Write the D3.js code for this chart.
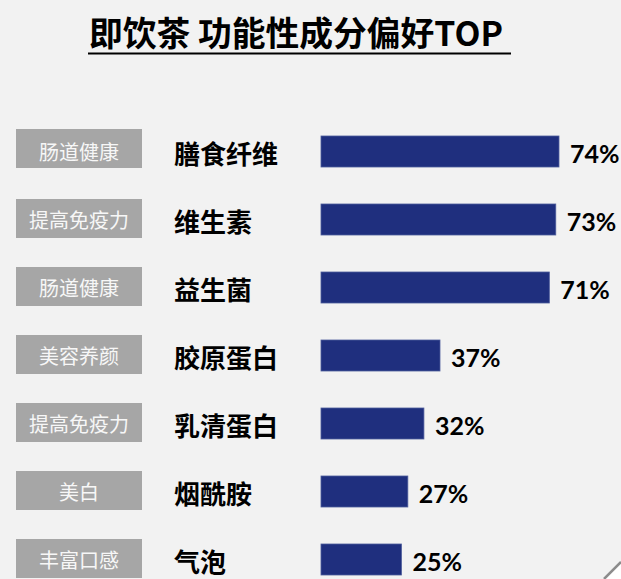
<!DOCTYPE html>
<html>
<head>
<meta charset="utf-8">
<script src="https://cdn.jsdelivr.net/npm/d3@7"></script>
<style>
  html, body { margin: 0; padding: 0; background: #f2f2f2; }
  svg { display: block; }
</style>
</head>
<body>
<svg id="chart" width="621" height="579"></svg>
<script>
// ---- data ----
const categories = ["膳食纤维", "维生素", "益生菌", "胶原蛋白", "乳清蛋白", "烟酰胺", "气泡"];
const benefits   = ["肠道健康", "提高免疫力", "肠道健康", "美容养颜", "提高免疫力", "美白", "丰富口感"];
const values     = [74, 73, 71, 37, 32, 27, 25];
const valueLabels = ["74%", "73%", "71%", "37%", "32%", "27%", "25%"];
const titleText = "即饮茶 功能性成分偏好TOP";

const W = 621, H = 579;
const svg = d3.select("#chart");

svg.append("rect").attr("width", W).attr("height", H).attr("fill", "#f2f2f2");

// scales
const y = d3.scalePoint().domain(categories).range([150.5, 558.5]);
const x = d3.scaleLinear().domain([0, 100]).range([321, 642.6]);

// title
const title = svg.append("text")
  .attr("x", 89).attr("y", 46)
  .attr("font-family", "'Noto Sans CJK SC', sans-serif")
  .attr("font-weight", 700)
  .attr("font-size", 33)
  .attr("fill", "#000")
  .text(titleText);
const tl = title.node().getComputedTextLength();
if (tl > 0) title.attr("font-size", 33 * 414 / tl);
svg.append("rect").attr("x", 88).attr("y", 52.5).attr("width", 423).attr("height", 2).attr("fill", "#000");

const rows = svg.append("g").selectAll("g").data(categories).join("g");

// grey benefit boxes
rows.append("rect")
  .attr("x", 16).attr("y", (d, i) => y(d) - (i === 0 ? 21.5 : 19.5))
  .attr("width", 126).attr("height", 39)
  .attr("fill", "#a6a6a6");
rows.append("text")
  .attr("x", 79).attr("y", d => y(d) + 1)
  .attr("text-anchor", "middle").attr("dominant-baseline", "central")
  .attr("font-family", "'Noto Sans CJK SC', sans-serif")
  .attr("font-weight", 400).attr("font-size", 20)
  .attr("fill", "#f7f7f7")
  .text((d, i) => benefits[i]);

// category labels
rows.append("text")
  .attr("x", 174).attr("y", d => y(d) + 1.5)
  .attr("dominant-baseline", "central")
  .attr("font-family", "'Noto Sans CJK SC', sans-serif")
  .attr("font-weight", 700).attr("font-size", 26)
  .attr("fill", "#000")
  .text(d => d);

// bars
rows.append("rect")
  .attr("x", x(0)).attr("y", d => y(d) - 14.5)
  .attr("width", (d, i) => x(values[i]) - x(0)).attr("height", 31)
  .attr("fill", "#1f2f7e")
  .attr("stroke", "#4d5c9c").attr("stroke-width", 0.8);

// value labels
rows.append("text")
  .attr("x", (d, i) => x(values[i]) + 11).attr("y", d => y(d) + 12.3)
  .attr("font-family", "Lato, 'Open Sans', sans-serif")
  .attr("font-weight", 700).attr("font-size", 25)
  .attr("fill", "#000")
  .text((d, i) => valueLabels[i]);

// page curl corner
svg.append("path").attr("d", "M621,562 L621,579 L604,579 Z").attr("fill", "#ffffff");
svg.append("line").attr("x1", 621).attr("y1", 562).attr("x2", 604).attr("y2", 579)
  .attr("stroke", "#8c8c8c").attr("stroke-width", 2.5);
</script>
</body>
</html>
